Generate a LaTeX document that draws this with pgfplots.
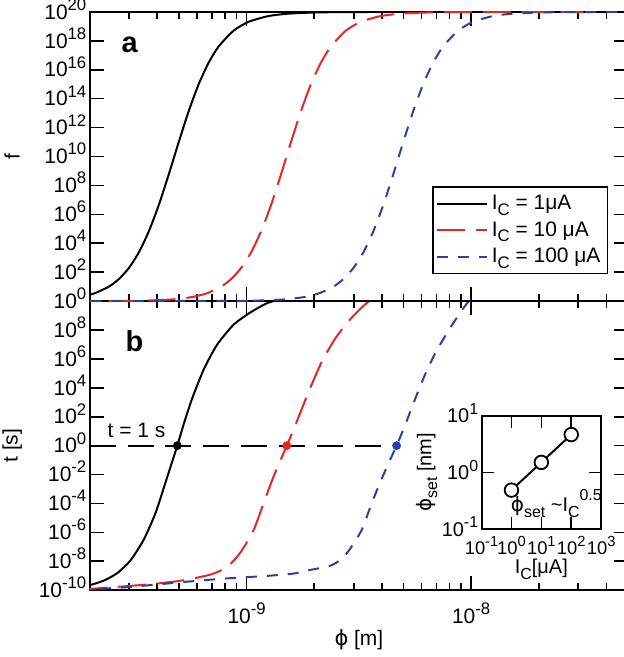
\documentclass[border=0pt]{standalone}
\usepackage{fontspec}
\setmainfont{Liberation Sans}
\newfontfamily\phifont{DejaVu Sans}
\usepackage{graphicx}
\usepackage{pgfplots}
\usepackage{pgfplotstable}
\pgfplotsset{compat=1.18}
\definecolor{cred}{RGB}{232,38,32}
\definecolor{cblue}{RGB}{40,65,170}
\newcommand\sups[1]{\smash{\raisebox{0.42em}{\scalebox{0.8}{#1}}}}
\newcommand\subs[1]{\raisebox{-0.28em}{\scalebox{0.8}{#1}}}
\newcommand\phis{{\phifont ϕ}}
\newcommand\logtick{10\sups{\pgfmathprintnumber[fixed,precision=0,assume math mode=true]{\tick}}}

% panel a: f(phi)
\pgfplotstableread{
phi f
1e-11 1
7.903e-11 1.017
1.074e-10 1.069
1.460e-10 1.288
1.792e-10 1.862
2.089e-10 3.334
2.436e-10 10
2.698e-10 33.57
2.990e-10 195.4
3.311e-10 2350
3.667e-10 6.668e4
4.063e-10 4.477e6
4.500e-10 5.834e8
4.986e-10 1.016e11
5.524e-10 1.406e13
6.118e-10 1.021e15
6.779e-10 3.170e16
7.508e-10 4.130e17
8.754e-10 5.129e18
1.0207e-9 2.094e19
1.2527e-9 5.224e19
1.537e-9 7.656e19
2.089e-9 9.333e19
3.147e-9 9.886e19
5.812e-9 1e20
1e-8 1e20
}\fA
\pgfplotstableread{
phi f
1e-11 1
2.499e-10 1.017
3.396e-10 1.069
4.617e-10 1.288
5.667e-10 1.862
6.606e-10 3.334
7.703e-10 10
8.532e-10 33.57
9.455e-10 195.4
1.0470e-9 2350
1.1596e-9 6.668e4
1.2848e-9 4.477e6
1.4230e-9 5.834e8
1.5767e-9 1.016e11
1.7468e-9 1.406e13
1.9347e-9 1.021e15
2.1437e-9 3.170e16
2.3743e-9 4.130e17
2.7683e-9 5.129e18
3.2277e-9 2.094e19
3.9614e-9 5.224e19
4.8605e-9 7.656e19
6.606e-9 9.333e19
9.952e-9 9.886e19
1.838e-8 1e20
3.162e-8 1e20
}\fB
\pgfplotstableread{
phi f
1e-11 1
7.903e-10 1.017
1.074e-9 1.069
1.460e-9 1.288
1.792e-9 1.862
2.089e-9 3.334
2.436e-9 10
2.698e-9 33.57
2.990e-9 195.4
3.311e-9 2350
3.667e-9 6.668e4
4.063e-9 4.477e6
4.500e-9 5.834e8
4.986e-9 1.016e11
5.524e-9 1.406e13
6.118e-9 1.021e15
6.779e-9 3.170e16
7.508e-9 4.130e17
8.754e-9 5.129e18
1.0207e-8 2.094e19
1.2527e-8 5.224e19
1.537e-8 7.656e19
2.089e-8 9.333e19
3.147e-8 9.886e19
5.812e-8 1e20
1e-7 1e20
}\fC
% panel b: t(phi)
\pgfplotstableread{
phi t
1.618e-10 1.380e-10
1.986e-10 2.188e-10
2.314e-10 4.677e-10
2.652e-10 1.514e-9
3.042e-10 1.175e-8
3.485e-10 3.236e-7
3.929e-10 2.188e-5
4.351e-10 2.818e-3
4.911e-10 1
5.248e-10 31.62
5.713e-10 1738
6.441e-10 1.862e5
7.379e-10 9.333e6
8.754e-10 2.344e8
1.038e-9 1.622e9
1.231e-9 7.079e9
1.460e-9 1.585e10
}\tA
\pgfplotstableread{
phi t
1.792e-10 1.122e-10
2.089e-10 1.288e-10
3.042e-10 1.995e-10
3.994e-10 2.884e-10
5.248e-10 4.898e-10
6.898e-10 1.202e-9
8.175e-10 3.981e-9
9.376e-10 3.981e-8
1.074e-9 1.445e-6
1.190e-9 1.023e-4
1.318e-9 7.244e-3
1.510e-9 1
1.686e-9 63.1
1.886e-9 5012
2.161e-9 6.310e5
2.479e-9 2.512e7
2.841e-9 3.981e8
3.254e-9 3.548e9
3.667e-9 1.778e10
}\tB
\pgfplotstableread{
phi t
1.792e-10 1e-10
2.089e-10 1.175e-10
3.042e-10 1.698e-10
5.248e-10 3.715e-10
7.903e-10 6.310e-10
1.231e-9 9.772e-10
1.618e-9 1.413e-9
1.886e-9 2.399e-9
2.314e-9 4.467e-9
2.564e-9 1e-8
2.841e-9 5.012e-8
3.254e-9 1.445e-6
3.605e-9 1.023e-4
3.994e-9 5.012e-3
4.424e-9 0.1778
4.656e-9 1
5.074e-9 25.12
5.621e-9 1585
6.227e-9 7.943e4
6.898e-9 2.239e6
7.640e-9 3.548e7
8.466e-9 4.467e8
9.376e-9 4.467e9
1.074e-8 6.310e10
}\tC
% inset
\pgfplotstableread{
I phiset
1 0.491
10 1.51
100 4.66
}\inset

\tikzset{
  sblack/.style={black, solid, line width=1pt},
  sred/.style={cred, dash pattern=on 14pt off 5.5pt, line width=1pt},
  sblue/.style={cblue, dash pattern=on 5.5pt off 5pt, line width=1pt},
}

\begin{document}
\begin{tikzpicture}
\useasboundingbox (-45pt,-33.5pt) rectangle (267.5pt,296pt);
% ---------- panel b ----------
\begin{axis}[at={(0pt,0pt)}, anchor=south west,
  scale only axis, width=270pt, height=145pt,
  xmode=log, ymode=log, log basis x=10, log basis y=10,
  xmin=2e-10, xmax=5e-8,
  xtick={1e-10,1e-9,1e-8},
  minor xtick={2e-10,3e-10,4e-10,5e-10,6e-10,7e-10,8e-10,9e-10,2e-9,3e-9,4e-9,5e-9,6e-9,7e-9,8e-9,9e-9,2e-8,3e-8,4e-8,5e-8},
  yminorticks=false,
  tick align=inside,
  major tick length=7pt, minor tick length=3.5pt,
  axis line style={line width=1pt},
  tick style={line width=0.8pt, black},
  tick label style={font=\fontsize{10.5}{12}\selectfont},
  label style={font=\fontsize{10.5}{12}\selectfont},
  yticklabel={\logtick},
  yticklabel style={anchor=east, inner sep=0pt, xshift=-1.5pt},
  xticklabel={\logtick},
  xticklabel style={anchor=north, inner sep=0pt, yshift=-9pt},
  ylabel style={at={(axis description cs:-0.144,0.5)}, anchor=center},
  xlabel style={at={(axis description cs:0.5,-0.172)}, anchor=center},
  ymin=1e-10, ymax=1e10,
  ytick={1e-10,1e-8,1e-6,1e-4,1e-2,1,1e2,1e4,1e6,1e8},
  xlabel={\phis\ [m]}, ylabel={t [s]}]
\addplot[black, line width=0.9pt, dash pattern=on 13pt off 6pt] coordinates {(2e-10,1) (4.656e-9,1)};
\addplot[sblack, smooth, tension=0.4] table[x=phi,y=t] {\tA};
\addplot[sred, smooth, tension=0.4] table[x=phi,y=t] {\tB};
\addplot[sblue, smooth, tension=0.4] table[x=phi,y=t] {\tC};
\addplot[only marks, mark=*, mark size=2pt, black] coordinates {(4.911e-10,1)};
\addplot[only marks, mark=*, mark size=2pt, cred] coordinates {(1.510e-9,1)};
\addplot[only marks, mark=*, mark size=2pt, cblue] coordinates {(4.656e-9,1)};
\node[font=\fontsize{10.5}{12}\selectfont] at (rel axis cs:0.087,0.552) {t = 1 s};
\node[font=\fontsize{14.5}{16}\selectfont\bfseries] at (rel axis cs:0.083,0.862) {b};
\end{axis}
% ---------- inset ----------
\begin{axis}[at={(196.5pt,30.5pt)}, anchor=south west,
  scale only axis, width=60pt, height=57pt,
  xmode=log, ymode=log, log basis x=10, log basis y=10,
  xmin=0.1, xmax=1000, ymin=0.1, ymax=10,
  xtick={0.1,1,10,100,1000}, ytick={0.1,1,10},
  xminorticks=false, yminorticks=false,
  tick align=inside, major tick length=6pt,
  axis line style={line width=1pt},
  tick style={line width=0.8pt, black},
  axis background/.style={fill=white},
  yticklabel style={font=\fontsize{10}{12}\selectfont, anchor=east, inner sep=0pt, xshift=-1.5pt},
  xticklabel style={font=\fontsize{9.2}{11}\selectfont, anchor=north, inner sep=0pt, yshift=-6pt},
  label style={font=\fontsize{10}{12}\selectfont},
  yticklabel={\logtick},
  xticklabel={\logtick},
  xlabel={I\subs{C}[μA]}, ylabel={\phis\subs{set} [nm]},
  xlabel style={at={(axis description cs:0.5,-0.35)}, anchor=center},
  ylabel style={at={(axis description cs:-0.458,0.5)}, anchor=center},
  clip=false]
\addplot[black, line width=1pt, mark=*, mark size=3.4pt, mark options={fill=white, draw=black, line width=0.9pt}] table[x=I,y=phiset] {\inset};
\node[font=\fontsize{10}{12}\selectfont] at (rel axis cs:0.625,0.228) {\phis\subs{set} \textasciitilde I\subs{C}\raisebox{0.55em}{\scalebox{0.8}{0.5}}};
\end{axis}
% ---------- panel a ----------
\begin{axis}[at={(0pt,145pt)}, anchor=south west,
  scale only axis, width=270pt, height=145pt,
  xmode=log, ymode=log, log basis x=10, log basis y=10,
  xmin=2e-10, xmax=5e-8,
  xtick={1e-10,1e-9,1e-8},
  minor xtick={2e-10,3e-10,4e-10,5e-10,6e-10,7e-10,8e-10,9e-10,2e-9,3e-9,4e-9,5e-9,6e-9,7e-9,8e-9,9e-9,2e-8,3e-8,4e-8,5e-8},
  yminorticks=false,
  tick align=inside,
  major tick length=7pt, minor tick length=3.5pt,
  axis line style={line width=1pt},
  tick style={line width=0.8pt, black},
  tick label style={font=\fontsize{10.5}{12}\selectfont},
  label style={font=\fontsize{10.5}{12}\selectfont},
  yticklabel={\logtick},
  yticklabel style={anchor=east, inner sep=0pt, xshift=-1.5pt},
  xticklabels={},
  ylabel style={at={(axis description cs:-0.144,0.5)}, anchor=center},
  ymin=1, ymax=1e20,
  ytick={1,1e2,1e4,1e6,1e8,1e10,1e12,1e14,1e16,1e18,1e20},
  ylabel={f},
  legend style={at={(0.963,0.397)}, anchor=north east, draw=black, line width=0.75pt,
    font=\fontsize{10.5}{12}\selectfont, cells={anchor=west}, inner xsep=1.5pt, inner ysep=2pt, row sep=0.5pt},
  legend image code/.code={\draw[#1] (0pt,0pt) -- (25pt,0pt);}]
\addplot[sblack, smooth, tension=0.4] table[x=phi,y=f] {\fA};
\addlegendentry{I\subs{C} = 1μA}
\addplot[sred, smooth, tension=0.4] table[x=phi,y=f] {\fB};
\addlegendentry{I\subs{C} = 10 μA}
\addplot[sblue, smooth, tension=0.4] table[x=phi,y=f] {\fC};
\addlegendentry{I\subs{C} = 100 μA}
\node[font=\fontsize{14.5}{16}\selectfont\bfseries] at (rel axis cs:0.074,0.886) {a};
\end{axis}
\end{tikzpicture}
\end{document}
